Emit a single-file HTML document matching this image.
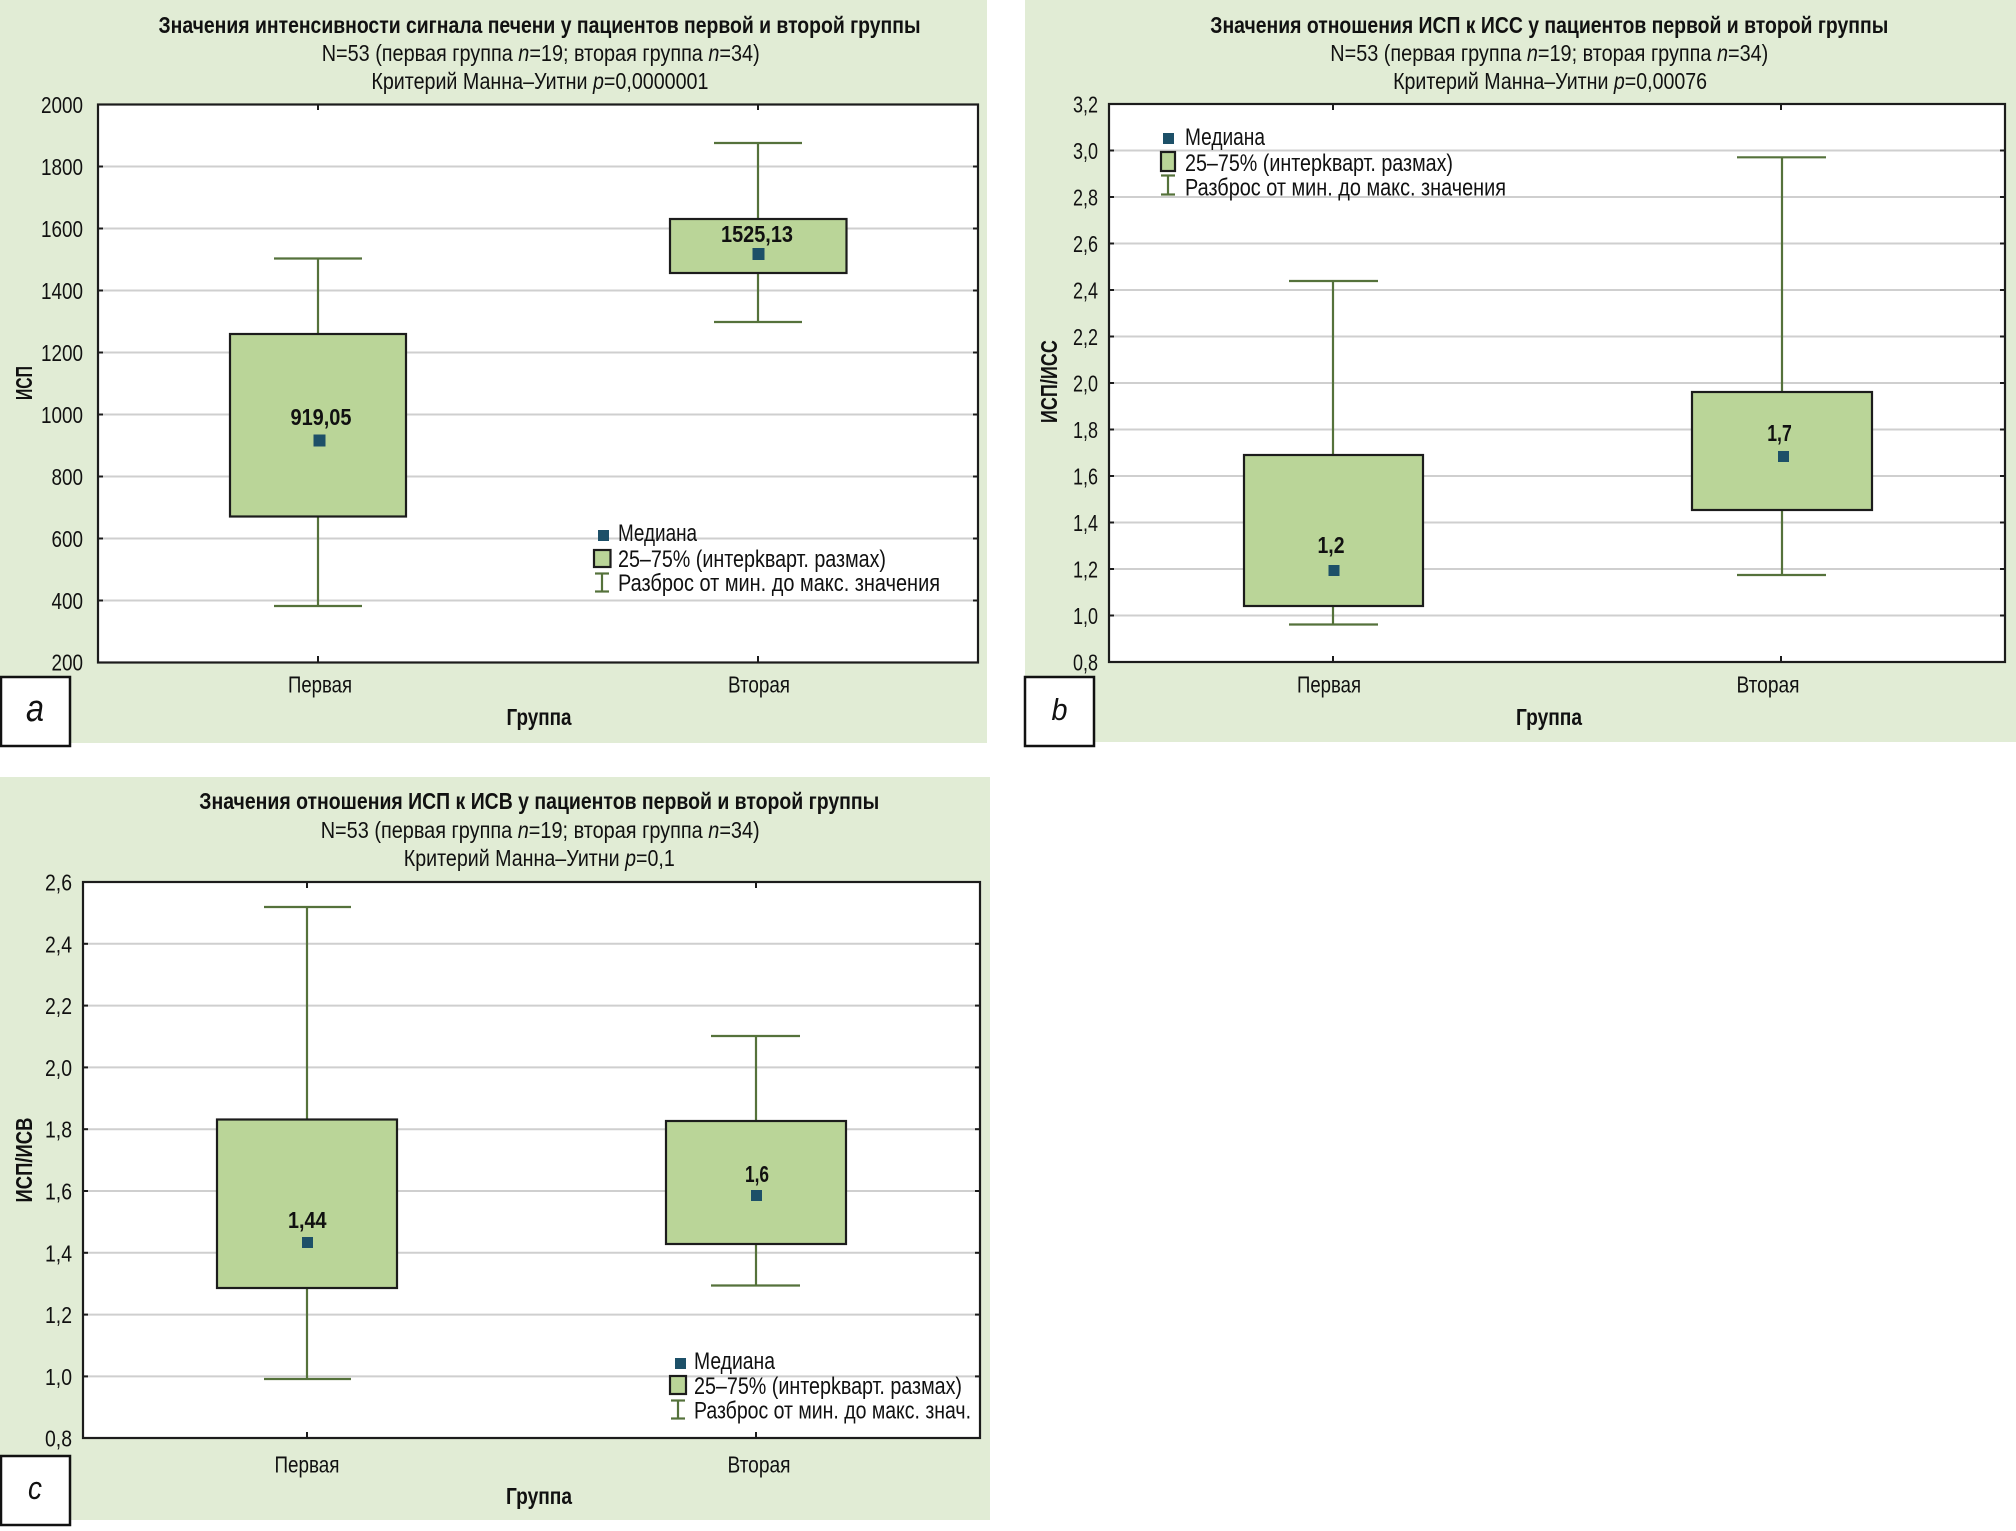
<!DOCTYPE html>
<html>
<head>
<meta charset="utf-8">
<style>
html,body{margin:0;padding:0;background:#fff;}
svg{display:block;}
text{font-family:"Liberation Sans","DejaVu Sans",sans-serif;fill:#111;}
.t1{font-size:23px;font-weight:bold;}
.t2{font-size:23px;}
.tick{font-size:23px;}
.lab{font-size:23px;font-weight:bold;}
.leg{font-size:24px;}
.grid{stroke:#cfcfcf;stroke-width:2;}
.ax{stroke:#1c1c1c;stroke-width:2.2;fill:none;}
.tk{stroke:#1c1c1c;stroke-width:2;}
.box{fill:#bad598;stroke:#1c1c1c;stroke-width:2.2;}
.wh{stroke:#55723b;stroke-width:2.2;fill:none;}
.med{fill:#1d5068;}
.lbox{fill:#fff;stroke:#111;stroke-width:2.5;}
.let{font-style:italic;font-size:38px;}
</style>
</head>
<body>
<svg width="2016" height="1531" viewBox="0 0 2016 1531" xmlns="http://www.w3.org/2000/svg">
<rect x="0" y="0" width="2016" height="1531" fill="#fff"/>
<!-- panel backgrounds -->
<rect x="0" y="0" width="987" height="743" fill="#e1ecd5"/>
<rect x="1025" y="0" width="991" height="742" fill="#e1ecd5"/>
<rect x="0" y="777" width="990" height="743" fill="#e1ecd5"/>

<!-- ================= PANEL A ================= -->
<text class="t1" x="158.5" y="33" textLength="762" lengthAdjust="spacingAndGlyphs">Значения интенсивности сигнала печени у пациентов первой и второй группы</text>
<text class="t2" x="321.7" y="61" textLength="438" lengthAdjust="spacingAndGlyphs">N=53 (первая группа <tspan font-style="italic">n</tspan>=19; вторая группа <tspan font-style="italic">n</tspan>=34)</text>
<text class="t2" x="371.4" y="89" textLength="337" lengthAdjust="spacingAndGlyphs">Критерий Манна–Уитни <tspan font-style="italic">p</tspan>=0,0000001</text>

<rect x="98" y="104.5" width="880" height="558" fill="#fff"/>
<g class="grid">
<line x1="98" y1="166.5" x2="978" y2="166.5"/>
<line x1="98" y1="228.5" x2="978" y2="228.5"/>
<line x1="98" y1="290.5" x2="978" y2="290.5"/>
<line x1="98" y1="352.5" x2="978" y2="352.5"/>
<line x1="98" y1="414.5" x2="978" y2="414.5"/>
<line x1="98" y1="476.5" x2="978" y2="476.5"/>
<line x1="98" y1="538.5" x2="978" y2="538.5"/>
<line x1="98" y1="600.5" x2="978" y2="600.5"/>
</g>
<g class="tk">
<line x1="98" y1="166.5" x2="103" y2="166.5"/><line x1="973" y1="166.5" x2="978" y2="166.5"/>
<line x1="98" y1="228.5" x2="103" y2="228.5"/><line x1="973" y1="228.5" x2="978" y2="228.5"/>
<line x1="98" y1="290.5" x2="103" y2="290.5"/><line x1="973" y1="290.5" x2="978" y2="290.5"/>
<line x1="98" y1="352.5" x2="103" y2="352.5"/><line x1="973" y1="352.5" x2="978" y2="352.5"/>
<line x1="98" y1="414.5" x2="103" y2="414.5"/><line x1="973" y1="414.5" x2="978" y2="414.5"/>
<line x1="98" y1="476.5" x2="103" y2="476.5"/><line x1="973" y1="476.5" x2="978" y2="476.5"/>
<line x1="98" y1="538.5" x2="103" y2="538.5"/><line x1="973" y1="538.5" x2="978" y2="538.5"/>
<line x1="98" y1="600.5" x2="103" y2="600.5"/><line x1="973" y1="600.5" x2="978" y2="600.5"/>
<line x1="318" y1="104.5" x2="318" y2="110"/><line x1="758" y1="104.5" x2="758" y2="110"/>
<line x1="318" y1="656" x2="318" y2="662.5"/><line x1="758" y1="656" x2="758" y2="662.5"/>
</g>
<!-- box a1 -->
<line class="wh" x1="318" y1="258.5" x2="318" y2="334.5"/>
<line class="wh" x1="318" y1="516.5" x2="318" y2="606"/>
<line class="wh" x1="274" y1="258.5" x2="362" y2="258.5"/>
<line class="wh" x1="274" y1="606" x2="362" y2="606"/>
<rect class="box" x="230" y="334" width="176" height="182.5"/>
<rect class="med" x="313.5" y="434.5" width="12" height="12"/>
<text class="lab" x="321" y="425" text-anchor="middle" textLength="61" lengthAdjust="spacingAndGlyphs">919,05</text>
<!-- box a2 -->
<line class="wh" x1="758" y1="143" x2="758" y2="219"/>
<line class="wh" x1="758" y1="273" x2="758" y2="322"/>
<line class="wh" x1="714" y1="143" x2="802" y2="143"/>
<line class="wh" x1="714" y1="322" x2="802" y2="322"/>
<rect class="box" x="670" y="219" width="176.5" height="54"/>
<rect class="med" x="752.5" y="248" width="12" height="12"/>
<text class="lab" x="757" y="242" text-anchor="middle" textLength="72" lengthAdjust="spacingAndGlyphs">1525,13</text>
<!-- legend a -->
<rect class="med" x="598" y="530" width="11" height="11"/>
<text class="leg" x="618" y="541" textLength="79" lengthAdjust="spacingAndGlyphs">Медиана</text>
<rect class="box" x="594" y="550" width="16.5" height="17"/>
<text class="leg" x="618" y="567" textLength="268" lengthAdjust="spacingAndGlyphs">25–75% (интерkварт. размах)</text>
<line class="wh" x1="602" y1="573" x2="602" y2="592"/>
<line class="wh" x1="595" y1="573.5" x2="609" y2="573.5"/>
<line class="wh" x1="595" y1="591.5" x2="609" y2="591.5"/>
<text class="leg" x="618" y="591" textLength="322" lengthAdjust="spacingAndGlyphs">Разброс от мин. до макс. значения</text>
<rect class="ax" x="98" y="104.5" width="880" height="558"/>
<!-- y ticks a -->
<g class="tick" text-anchor="end">
<text x="83" y="113" textLength="42" lengthAdjust="spacingAndGlyphs">2000</text>
<text x="83" y="175" textLength="42" lengthAdjust="spacingAndGlyphs">1800</text>
<text x="83" y="237" textLength="42" lengthAdjust="spacingAndGlyphs">1600</text>
<text x="83" y="299" textLength="42" lengthAdjust="spacingAndGlyphs">1400</text>
<text x="83" y="361" textLength="42" lengthAdjust="spacingAndGlyphs">1200</text>
<text x="83" y="423" textLength="42" lengthAdjust="spacingAndGlyphs">1000</text>
<text x="83" y="485" textLength="31.5" lengthAdjust="spacingAndGlyphs">800</text>
<text x="83" y="547" textLength="31.5" lengthAdjust="spacingAndGlyphs">600</text>
<text x="83" y="609" textLength="31.5" lengthAdjust="spacingAndGlyphs">400</text>
<text x="83" y="670.5" textLength="31.5" lengthAdjust="spacingAndGlyphs">200</text>
</g>
<text class="lab" transform="translate(32,383) rotate(-90)" text-anchor="middle" textLength="34" lengthAdjust="spacingAndGlyphs">ИСП</text>
<text class="t2" x="320" y="692.5" text-anchor="middle" textLength="64" lengthAdjust="spacingAndGlyphs">Первая</text>
<text class="t2" x="759" y="692.5" text-anchor="middle" textLength="62" lengthAdjust="spacingAndGlyphs">Вторая</text>
<text class="lab" x="539" y="725" text-anchor="middle" textLength="65" lengthAdjust="spacingAndGlyphs">Группа</text>
<rect class="lbox" x="1" y="677" width="69" height="69"/>
<text class="let" x="35" y="721" text-anchor="middle" textLength="18" lengthAdjust="spacingAndGlyphs">a</text>

<!-- ================= PANEL B ================= -->
<text class="t1" x="1210.3" y="33" textLength="678" lengthAdjust="spacingAndGlyphs">Значения отношения ИСП к ИСС у пациентов первой и второй группы</text>
<text class="t2" x="1330.3" y="61" textLength="438" lengthAdjust="spacingAndGlyphs">N=53 (первая группа <tspan font-style="italic">n</tspan>=19; вторая группа <tspan font-style="italic">n</tspan>=34)</text>
<text class="t2" x="1393.1" y="89" textLength="314" lengthAdjust="spacingAndGlyphs">Критерий Манна–Уитни <tspan font-style="italic">p</tspan>=0,00076</text>

<rect x="1109" y="104" width="896" height="558" fill="#fff"/>
<g class="grid">
<line x1="1109" y1="150.5" x2="2005" y2="150.5"/>
<line x1="1109" y1="197" x2="2005" y2="197"/>
<line x1="1109" y1="243.5" x2="2005" y2="243.5"/>
<line x1="1109" y1="290" x2="2005" y2="290"/>
<line x1="1109" y1="336.5" x2="2005" y2="336.5"/>
<line x1="1109" y1="383" x2="2005" y2="383"/>
<line x1="1109" y1="429.5" x2="2005" y2="429.5"/>
<line x1="1109" y1="476" x2="2005" y2="476"/>
<line x1="1109" y1="522.5" x2="2005" y2="522.5"/>
<line x1="1109" y1="569" x2="2005" y2="569"/>
<line x1="1109" y1="615.5" x2="2005" y2="615.5"/>
</g>
<g class="tk">
<line x1="1109" y1="150.5" x2="1114" y2="150.5"/><line x1="2000" y1="150.5" x2="2005" y2="150.5"/>
<line x1="1109" y1="197" x2="1114" y2="197"/><line x1="2000" y1="197" x2="2005" y2="197"/>
<line x1="1109" y1="243.5" x2="1114" y2="243.5"/><line x1="2000" y1="243.5" x2="2005" y2="243.5"/>
<line x1="1109" y1="290" x2="1114" y2="290"/><line x1="2000" y1="290" x2="2005" y2="290"/>
<line x1="1109" y1="336.5" x2="1114" y2="336.5"/><line x1="2000" y1="336.5" x2="2005" y2="336.5"/>
<line x1="1109" y1="383" x2="1114" y2="383"/><line x1="2000" y1="383" x2="2005" y2="383"/>
<line x1="1109" y1="429.5" x2="1114" y2="429.5"/><line x1="2000" y1="429.5" x2="2005" y2="429.5"/>
<line x1="1109" y1="476" x2="1114" y2="476"/><line x1="2000" y1="476" x2="2005" y2="476"/>
<line x1="1109" y1="522.5" x2="1114" y2="522.5"/><line x1="2000" y1="522.5" x2="2005" y2="522.5"/>
<line x1="1109" y1="569" x2="1114" y2="569"/><line x1="2000" y1="569" x2="2005" y2="569"/>
<line x1="1109" y1="615.5" x2="1114" y2="615.5"/><line x1="2000" y1="615.5" x2="2005" y2="615.5"/>
<line x1="1333" y1="104" x2="1333" y2="110"/><line x1="1781" y1="104" x2="1781" y2="110"/>
<line x1="1333" y1="656" x2="1333" y2="662"/><line x1="1781" y1="656" x2="1781" y2="662"/>
</g>
<!-- box b1 -->
<line class="wh" x1="1333" y1="281" x2="1333" y2="455"/>
<line class="wh" x1="1333" y1="606" x2="1333" y2="624.5"/>
<line class="wh" x1="1289" y1="281" x2="1378" y2="281"/>
<line class="wh" x1="1289" y1="624.5" x2="1378" y2="624.5"/>
<rect class="box" x="1244" y="455" width="179" height="151"/>
<rect class="med" x="1328.5" y="565" width="11" height="11"/>
<text class="lab" x="1331" y="553" text-anchor="middle" textLength="27" lengthAdjust="spacingAndGlyphs">1,2</text>
<!-- box b2 -->
<line class="wh" x1="1782" y1="157.3" x2="1782" y2="392"/>
<line class="wh" x1="1782" y1="510" x2="1782" y2="575"/>
<line class="wh" x1="1737" y1="157.3" x2="1826" y2="157.3"/>
<line class="wh" x1="1737" y1="575" x2="1826" y2="575"/>
<rect class="box" x="1692" y="392" width="180" height="118"/>
<rect class="med" x="1778" y="451" width="11" height="11"/>
<text class="lab" x="1779.5" y="441" text-anchor="middle" textLength="24.5" lengthAdjust="spacingAndGlyphs">1,7</text>
<!-- legend b -->
<rect class="med" x="1163" y="133" width="11" height="11"/>
<text class="leg" x="1185" y="145" textLength="80" lengthAdjust="spacingAndGlyphs">Медиана</text>
<rect class="box" x="1161" y="152" width="14" height="19"/>
<text class="leg" x="1185" y="171" textLength="268" lengthAdjust="spacingAndGlyphs">25–75% (интерkварт. размах)</text>
<line class="wh" x1="1168" y1="175" x2="1168" y2="195"/>
<line class="wh" x1="1161" y1="175.5" x2="1175" y2="175.5"/>
<line class="wh" x1="1161" y1="194.5" x2="1175" y2="194.5"/>
<text class="leg" x="1185" y="195.5" textLength="321" lengthAdjust="spacingAndGlyphs">Разброс от мин. до макс. значения</text>
<rect class="ax" x="1109" y="104" width="896" height="558"/>
<g class="tick" text-anchor="end">
<text x="1098" y="112.5" textLength="25" lengthAdjust="spacingAndGlyphs">3,2</text>
<text x="1098" y="159" textLength="25" lengthAdjust="spacingAndGlyphs">3,0</text>
<text x="1098" y="205.5" textLength="25" lengthAdjust="spacingAndGlyphs">2,8</text>
<text x="1098" y="252" textLength="25" lengthAdjust="spacingAndGlyphs">2,6</text>
<text x="1098" y="298.5" textLength="25" lengthAdjust="spacingAndGlyphs">2,4</text>
<text x="1098" y="345" textLength="25" lengthAdjust="spacingAndGlyphs">2,2</text>
<text x="1098" y="391.5" textLength="25" lengthAdjust="spacingAndGlyphs">2,0</text>
<text x="1098" y="438" textLength="25" lengthAdjust="spacingAndGlyphs">1,8</text>
<text x="1098" y="484.5" textLength="25" lengthAdjust="spacingAndGlyphs">1,6</text>
<text x="1098" y="531" textLength="25" lengthAdjust="spacingAndGlyphs">1,4</text>
<text x="1098" y="577.5" textLength="25" lengthAdjust="spacingAndGlyphs">1,2</text>
<text x="1098" y="624" textLength="25" lengthAdjust="spacingAndGlyphs">1,0</text>
<text x="1098" y="670.5" textLength="25" lengthAdjust="spacingAndGlyphs">0,8</text>
</g>
<text class="lab" transform="translate(1057,381.6) rotate(-90)" text-anchor="middle" textLength="83" lengthAdjust="spacingAndGlyphs">ИСП/ИСС</text>
<text class="t2" x="1329" y="692.5" text-anchor="middle" textLength="64" lengthAdjust="spacingAndGlyphs">Первая</text>
<text class="t2" x="1768" y="692.5" text-anchor="middle" textLength="63" lengthAdjust="spacingAndGlyphs">Вторая</text>
<text class="lab" x="1549" y="725" text-anchor="middle" textLength="66" lengthAdjust="spacingAndGlyphs">Группа</text>
<rect class="lbox" x="1025" y="677" width="69" height="69"/>
<text class="let" x="1059.5" y="720" text-anchor="middle" textLength="16" lengthAdjust="spacingAndGlyphs" style="font-size:31px">b</text>

<!-- ================= PANEL C ================= -->
<text class="t1" x="199.3" y="809" textLength="680" lengthAdjust="spacingAndGlyphs">Значения отношения ИСП к ИСВ у пациентов первой и второй группы</text>
<text class="t2" x="320.7" y="838" textLength="439" lengthAdjust="spacingAndGlyphs">N=53 (первая группа <tspan font-style="italic">n</tspan>=19; вторая группа <tspan font-style="italic">n</tspan>=34)</text>
<text class="t2" x="403.8" y="866" textLength="271" lengthAdjust="spacingAndGlyphs">Критерий Манна–Уитни <tspan font-style="italic">p</tspan>=0,1</text>

<rect x="83" y="882" width="897" height="556" fill="#fff"/>
<g class="grid">
<line x1="83" y1="943.8" x2="980" y2="943.8"/>
<line x1="83" y1="1005.6" x2="980" y2="1005.6"/>
<line x1="83" y1="1067.4" x2="980" y2="1067.4"/>
<line x1="83" y1="1129.2" x2="980" y2="1129.2"/>
<line x1="83" y1="1191" x2="980" y2="1191"/>
<line x1="83" y1="1252.8" x2="980" y2="1252.8"/>
<line x1="83" y1="1314.6" x2="980" y2="1314.6"/>
<line x1="83" y1="1376.4" x2="980" y2="1376.4"/>
</g>
<g class="tk">
<line x1="83" y1="943.8" x2="88" y2="943.8"/><line x1="975" y1="943.8" x2="980" y2="943.8"/>
<line x1="83" y1="1005.6" x2="88" y2="1005.6"/><line x1="975" y1="1005.6" x2="980" y2="1005.6"/>
<line x1="83" y1="1067.4" x2="88" y2="1067.4"/><line x1="975" y1="1067.4" x2="980" y2="1067.4"/>
<line x1="83" y1="1129.2" x2="88" y2="1129.2"/><line x1="975" y1="1129.2" x2="980" y2="1129.2"/>
<line x1="83" y1="1191" x2="88" y2="1191"/><line x1="975" y1="1191" x2="980" y2="1191"/>
<line x1="83" y1="1252.8" x2="88" y2="1252.8"/><line x1="975" y1="1252.8" x2="980" y2="1252.8"/>
<line x1="83" y1="1314.6" x2="88" y2="1314.6"/><line x1="975" y1="1314.6" x2="980" y2="1314.6"/>
<line x1="83" y1="1376.4" x2="88" y2="1376.4"/><line x1="975" y1="1376.4" x2="980" y2="1376.4"/>
<line x1="307" y1="882" x2="307" y2="888"/><line x1="756" y1="882" x2="756" y2="888"/>
<line x1="307" y1="1432" x2="307" y2="1438"/><line x1="756" y1="1432" x2="756" y2="1438"/>
</g>
<!-- box c1 -->
<line class="wh" x1="307" y1="907" x2="307" y2="1119.5"/>
<line class="wh" x1="307" y1="1288" x2="307" y2="1379"/>
<line class="wh" x1="264" y1="907" x2="351" y2="907"/>
<line class="wh" x1="264" y1="1379" x2="351" y2="1379"/>
<rect class="box" x="217" y="1119.5" width="180" height="168.5"/>
<rect class="med" x="302" y="1237" width="11" height="11"/>
<text class="lab" x="307.3" y="1228" text-anchor="middle" textLength="38.5" lengthAdjust="spacingAndGlyphs">1,44</text>
<!-- box c2 -->
<line class="wh" x1="756" y1="1036" x2="756" y2="1121"/>
<line class="wh" x1="756" y1="1244" x2="756" y2="1285.5"/>
<line class="wh" x1="711" y1="1036" x2="800" y2="1036"/>
<line class="wh" x1="711" y1="1285.5" x2="800" y2="1285.5"/>
<rect class="box" x="666" y="1121" width="180" height="123"/>
<rect class="med" x="751" y="1190" width="11" height="11"/>
<text class="lab" x="757" y="1182" text-anchor="middle" textLength="24" lengthAdjust="spacingAndGlyphs">1,6</text>
<!-- legend c -->
<rect class="med" x="675" y="1358" width="11" height="11"/>
<text class="leg" x="694" y="1369" textLength="81" lengthAdjust="spacingAndGlyphs">Медиана</text>
<rect class="box" x="670" y="1376" width="16" height="18"/>
<text class="leg" x="694" y="1394" textLength="268" lengthAdjust="spacingAndGlyphs">25–75% (интерkварт. размах)</text>
<line class="wh" x1="678" y1="1400" x2="678" y2="1419"/>
<line class="wh" x1="671" y1="1400.5" x2="685" y2="1400.5"/>
<line class="wh" x1="671" y1="1418.5" x2="685" y2="1418.5"/>
<text class="leg" x="694" y="1418.5" textLength="277" lengthAdjust="spacingAndGlyphs">Разброс от мин. до макс. знач.</text>
<rect class="ax" x="83" y="882" width="897" height="556"/>
<g class="tick" text-anchor="end">
<text x="72" y="890.5" textLength="27" lengthAdjust="spacingAndGlyphs">2,6</text>
<text x="72" y="952.3" textLength="27" lengthAdjust="spacingAndGlyphs">2,4</text>
<text x="72" y="1014.1" textLength="27" lengthAdjust="spacingAndGlyphs">2,2</text>
<text x="72" y="1075.9" textLength="27" lengthAdjust="spacingAndGlyphs">2,0</text>
<text x="72" y="1137.7" textLength="27" lengthAdjust="spacingAndGlyphs">1,8</text>
<text x="72" y="1199.5" textLength="27" lengthAdjust="spacingAndGlyphs">1,6</text>
<text x="72" y="1261.3" textLength="27" lengthAdjust="spacingAndGlyphs">1,4</text>
<text x="72" y="1323.1" textLength="27" lengthAdjust="spacingAndGlyphs">1,2</text>
<text x="72" y="1384.9" textLength="27" lengthAdjust="spacingAndGlyphs">1,0</text>
<text x="72" y="1446.5" textLength="27" lengthAdjust="spacingAndGlyphs">0,8</text>
</g>
<text class="lab" transform="translate(32,1160) rotate(-90)" text-anchor="middle" textLength="85" lengthAdjust="spacingAndGlyphs">ИСП/ИСВ</text>
<text class="t2" x="307" y="1472.5" text-anchor="middle" textLength="65" lengthAdjust="spacingAndGlyphs">Первая</text>
<text class="t2" x="759" y="1472.5" text-anchor="middle" textLength="63" lengthAdjust="spacingAndGlyphs">Вторая</text>
<text class="lab" x="539" y="1504" text-anchor="middle" textLength="66" lengthAdjust="spacingAndGlyphs">Группа</text>
<rect class="lbox" x="1" y="1456" width="69" height="69"/>
<text class="let" x="35" y="1499" text-anchor="middle" textLength="14" lengthAdjust="spacingAndGlyphs" style="font-size:32px">c</text>
</svg>
</body>
</html>
